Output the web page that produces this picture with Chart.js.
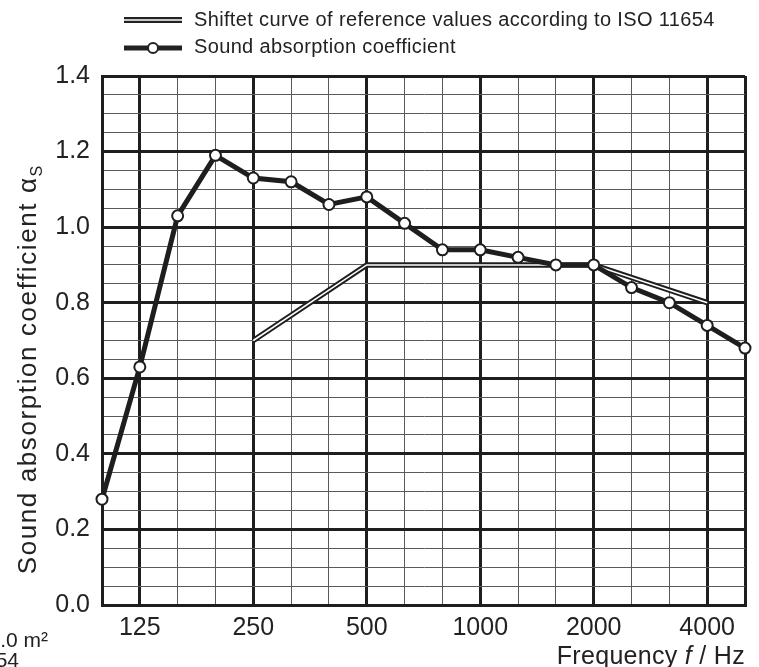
<!DOCTYPE html>
<html>
<head>
<meta charset="utf-8">
<script src="https://cdn.jsdelivr.net/npm/chart.js@4"></script>
<style>
  body { margin: 0; background: #fff; font-family: "Liberation Sans", Arial, sans-serif; color: #222; }
  #wrap { position: relative; width: 759px; height: 667px; overflow: hidden; }
  #myChart { position: absolute; left: 0; top: 0; }
  .sym { position: absolute; left: 124px; }
  .lgtext { position: absolute; left: 194px; font-size: 20px; letter-spacing: 0.35px; white-space: nowrap; line-height: 23px; }
  #ytitle { position: absolute; left: 29px; top: 370px; transform: translate(-50%, -50%) rotate(-90deg);
            font-size: 26px; letter-spacing: 1.6px; white-space: nowrap; }
  #ytitle sub { font-size: 16px; letter-spacing: 0; }
  #xtitle { position: absolute; right: 14px; top: 641px; font-size: 25px; letter-spacing: 0.3px; white-space: nowrap; }
  .frag { position: absolute; font-size: 21px; white-space: nowrap; text-align: right; }
</style>
</head>
<body>
<div id="wrap">
  <canvas id="myChart" width="759" height="667"></canvas>
  <svg class="sym" style="top:10px" width="58" height="20"><line x1="0" y1="10" x2="58" y2="10" stroke="#222" stroke-width="6"/><line x1="0" y1="10" x2="58" y2="10" stroke="#fff" stroke-width="1.6"/></svg>
  <div class="lgtext" style="top:8px">Shiftet curve of reference values according to ISO 11654</div>
  <svg class="sym" style="top:38px" width="58" height="20"><line x1="0" y1="10" x2="58" y2="10" stroke="#222" stroke-width="5"/><circle cx="29" cy="10" r="5" fill="#fff" stroke="#222" stroke-width="2"/></svg>
  <div class="lgtext" style="top:35px">Sound absorption coefficient</div>
  <div id="ytitle">Sound absorption coefficient α<sub>S</sub></div>
  <div id="xtitle">Frequency <i>f</i> / Hz</div>
  <div class="frag" style="right:711px; top:628px;">A = 10.0 m²</div>
  <div class="frag" style="right:740px; top:648px;">ISO 354</div>
</div>
<script>
const ctx = document.getElementById('myChart');

// third-octave bands, Hz
const freqs = ['100','125','160','200','250','315','400','500','630','800','1000','1250','1600','2000','2500','3150','4000','5000'];
const shownLabels = ['125','250','500','1000','2000','4000'];
// measured sound absorption coefficient
const alphaS = [0.28, 0.63, 1.03, 1.19, 1.13, 1.12, 1.06, 1.08, 1.01, 0.94, 0.94, 0.92, 0.90, 0.90, 0.84, 0.80, 0.74, 0.68];
// shifted ISO 11654 reference curve
const refCurve = [null, null, null, null, 0.70, null, null, 0.90, null, null, null, null, null, 0.90, null, null, 0.80, null];

function isMajorY(v){
    let r = v / 0.2;
    return Math.abs(r - Math.round(r)) < 1e-6;
}
function isMajorX(i){
    return shownLabels.includes(freqs[i]) || i == 0 || i == freqs.length - 1;
}

let chart = new Chart(ctx, {
    type: 'line',
    data: {
      labels: freqs,
      datasets: [{
        label: 'Sound absorption coefficient',
        data: alphaS,
        borderColor: '#1e1e1e',
        borderWidth: 5,
        pointRadius: 5.5,
        pointBackgroundColor: '#fff',
        pointBorderColor: '#1e1e1e',
        pointBorderWidth: 2,
        tension: 0,
        clip: false,
        order: 0
      }, {
        label: 'ref inner',
        data: refCurve,
        spanGaps: true,
        borderColor: '#fff',
        borderWidth: 1.6,
        pointRadius: 0,
        clip: false,
        order: 1
      }, {
        label: 'Shiftet curve of reference values according to ISO 11654',
        data: refCurve,
        spanGaps: true,
        borderColor: '#1e1e1e',
        borderWidth: 5.5,
        pointRadius: 0,
        clip: false,
        order: 2
      }]
    },
    options: {
      responsive: false,
      animation: false,
      layout: { padding: { top: 76, right: 14, left: 0, bottom: 0 } },
      plugins: { legend: { display: false }, tooltip: { enabled: false } },
      scales: {
        x: {
          offset: false,
          afterFit: s => { s.height = 62; },
          border: { color: '#1e1e1e', width: 3 },
          grid: {
            drawTicks: false,
            color: c => isMajorX(c.index) ? '#1e1e1e' : '#5a5a5a',
            lineWidth: c => isMajorX(c.index) ? 3 : 1
          },
          ticks: {
            autoSkip: false,
            maxRotation: 0,
            padding: 8,
            color: '#222',
            font: { family: 'Liberation Sans', size: 25 },
            callback: (v, i) => shownLabels.includes(freqs[i]) ? freqs[i] : ''
          }
        },
        y: {
          min: 0,
          max: 1.4,
          afterFit: s => { s.width = 102; },
          border: { color: '#1e1e1e', width: 3 },
          grid: {
            drawTicks: false,
            color: c => isMajorY(c.tick.value) ? '#1e1e1e' : '#5a5a5a',
            lineWidth: c => isMajorY(c.tick.value) ? 3 : 1
          },
          ticks: {
            stepSize: 0.05,
            autoSkip: false,
            padding: 12,
            color: '#222',
            font: { family: 'Liberation Sans', size: 25 },
            callback: v => isMajorY(v) ? v.toFixed(1) : ''
          }
        }
      }
    }
});
</script>
</body>
</html>
